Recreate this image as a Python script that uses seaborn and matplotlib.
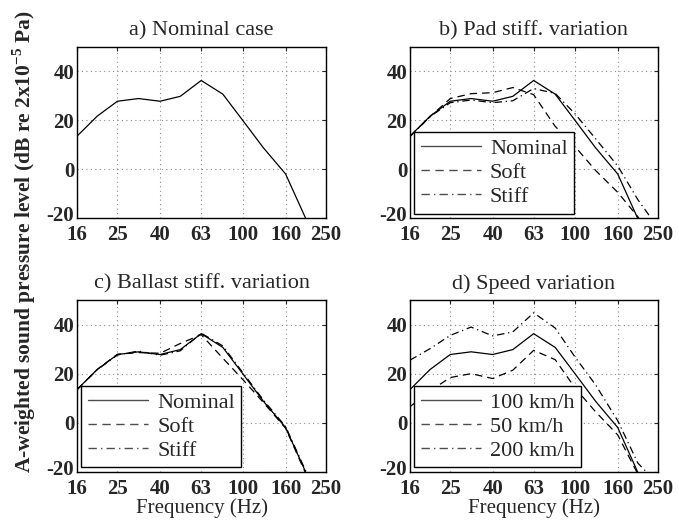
import numpy as np
import pandas as pd
import matplotlib
matplotlib.use("Agg")
import matplotlib.pyplot as plt
import matplotlib.transforms as mtransforms
from matplotlib.lines import Line2D
import seaborn as sns

# 1/3 octave band centre frequencies (Hz)
freqs = [16, 20, 25, 31.5, 40, 50, 63, 80, 100, 125, 160, 200, 250]
tick_freqs = [16, 25, 40, 63, 100, 160, 250]
tick_labels = ["16", "25", "40", "63", "100", "160", "250"]
level_ticks = [-20, 0, 20, 40]
level_labels = ["-20", "0", "20", "40"]

# A-weighted sound pressure levels (dB re 2x10^-5 Pa)
nominal = [13.5, 21.7, 27.8, 28.9, 27.8, 29.8, 36.3, 30.7, 19.8, 8.8, -2.0, -20.3, -38.0]
pad_soft = [13.5, 21.5, 28.9, 30.9, 31.3, 33.4, 30.5, 17.5, 9.1, -0.5, -9.5, -19.5, -32.0]
pad_stiff = [13.3, 21.5, 27.2, 28.3, 27.2, 28.0, 33.0, 31.0, 22.5, 12.5, 1.3, -12.5, -24.0]
ballast_soft = [13.5, 21.7, 27.9, 28.6, 28.3, 32.3, 35.9, 26.3, 17.5, 8.3, -2.3, -20.8, -38.0]
ballast_stiff = [13.4, 21.6, 27.6, 29.2, 27.5, 29.3, 36.5, 31.3, 20.3, 9.3, -1.6, -19.8, -37.0]
speed_50 = [6.5, 13.0, 18.4, 20.0, 18.0, 21.4, 29.5, 25.7, 14.0, 4.5, -5.0, -21.0, -38.0]
speed_200 = [25.5, 30.2, 35.6, 39.0, 35.4, 37.0, 44.8, 38.6, 26.6, 15.5, 0.8, -16.5, -25.0]

titles = ["a) Nominal case", "b) Pad stiff. variation",
          "c) Ballast stiff. variation", "d) Speed variation"]

sns.set_style("white")
plt.rcParams["font.family"] = ["Liberation Serif", "DejaVu Serif"]
plt.rcParams["mathtext.fontset"] = "custom"
plt.rcParams["mathtext.rm"] = "Liberation Serif"
plt.rcParams["mathtext.bf"] = "Liberation Serif:bold"

dash_styles = ["", (6, 4), (6, 3, 1, 3)]
mpl_styles = ["-", (0, (6, 4)), (0, (6, 3, 1, 3))]

panels = [
    (titles[0], [nominal], ["Nominal"], False),
    (titles[1], [nominal, pad_soft, pad_stiff], ["Nominal", "Soft", "Stiff"], True),
    (titles[2], [nominal, ballast_soft, ballast_stiff], ["Nominal", "Soft", "Stiff"], True),
    (titles[3], [nominal, speed_50, speed_200], ["100 km/h", "50 km/h", "200 km/h"], True),
]

# axes positions in figure fractions [left, bottom, width, height]
positions = [
    [0.1136, 0.5808, 0.3673, 0.3288],
    [0.6047, 0.5808, 0.3658, 0.3288],
    [0.1136, 0.0929, 0.3673, 0.3300],
    [0.6047, 0.0929, 0.3658, 0.3300],
]

fig = plt.figure(figsize=(6.78, 5.2), dpi=100)
raise_label = mtransforms.ScaledTranslation(0, 4 / 100, fig.dpi_scale_trans)

for i, (title, series, labels, show_legend) in enumerate(panels):
    ax = fig.add_axes(positions[i])
    df = pd.DataFrame({
        "freq": np.tile(freqs, len(series)),
        "level": np.concatenate(series),
        "case": np.repeat(labels, len(freqs)),
    })
    sns.lineplot(data=df, x="freq", y="level", style="case",
                 dashes=dict(zip(labels, dash_styles[:len(labels)])),
                 color="black", linewidth=0.9, legend=False, ax=ax)
    ax.set_xscale("log")
    ax.set_xlim(16, 250)
    ax.set_ylim(-20, 50)
    ax.set_xticks(tick_freqs)
    ax.set_xticklabels(tick_labels)
    ax.minorticks_off()
    ax.set_yticks(level_ticks)
    ax.set_yticklabels(level_labels)
    ax.tick_params(direction="in", length=3, top=True, right=True, labelsize=15)
    ax.tick_params(axis="x", pad=5)
    ax.tick_params(axis="y", pad=2)
    for lab in ax.get_xticklabels() + ax.get_yticklabels():
        lab.set_fontweight("bold")
    # the lowest y label sits a little higher in the original
    ylabs = ax.get_yticklabels()
    ylabs[0].set_transform(ylabs[0].get_transform() + raise_label)
    ax.grid(True, which="major", color="0.55", linestyle=(0, (1, 3)), linewidth=0.8)
    for sp in ax.spines.values():
        sp.set_color("black")
        sp.set_linewidth(1.0)
    ax.set_title(title, fontsize=16, pad=8)
    ax.set_ylabel("")
    if i >= 2:
        ax.set_xlabel("Frequency (Hz)", fontsize=15, labelpad=0)
    else:
        ax.set_xlabel("")
    if show_legend:
        handles = [Line2D([], [], color="0.3", linewidth=1.0, linestyle=mpl_styles[k])
                   for k in range(len(labels))]
        leg = ax.legend(handles, labels, loc="lower left", fontsize=16,
                        frameon=True, fancybox=False, framealpha=1,
                        edgecolor="black", borderaxespad=0.2, borderpad=0.3,
                        labelspacing=0.15, handlelength=2.7, handletextpad=0.4)
        leg.get_frame().set_linewidth(1.0)

fig.text(0.036, 0.535, r"A-weighted sound pressure level (dB re 2x10$^{\mathbf{-5}}$ Pa)",
         rotation=90, ha="center", va="center", fontsize=15.5, fontweight="bold")

fig.savefig("out.png", dpi=100)
